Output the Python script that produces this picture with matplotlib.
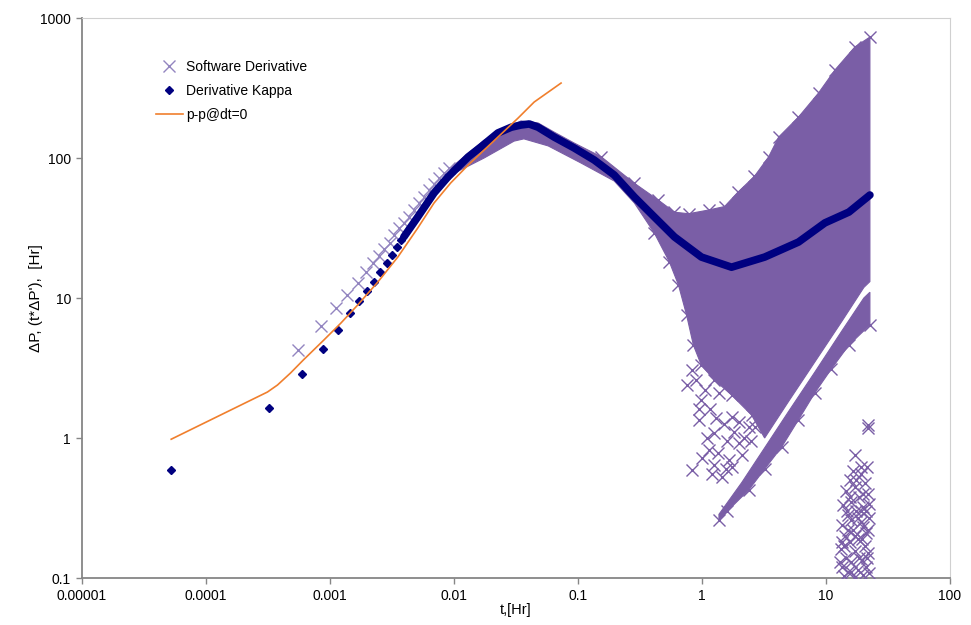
import numpy as np
import matplotlib
matplotlib.use('Agg')
import matplotlib.pyplot as plt
from matplotlib.ticker import NullLocator

plt.rcParams['font.family'] = ['Liberation Sans', 'DejaVu Sans']

# ---- data (t in Hr) ----
# p-p@dt=0
pp_t = [5.24e-5, 3.13e-4, 3.77e-4, 4.8e-4, 6.1e-4, 8.9e-4, 1.22e-3, 1.67e-3, 2.43e-3,
        3.52e-3, 5.1e-3, 6.9e-3, 9.4e-3, 1.30e-2, 1.75e-2, 2.26e-2, 3.29e-2, 4.43e-2, 7.3e-2]
pp_v = [0.98, 2.13, 2.39, 2.91, 3.61, 5.0, 6.6, 8.9, 13.0,
        19.6, 31.6, 47.7, 66.3, 89, 114, 141, 193, 251, 343]

# Derivative Kappa, early separate points
kap_t = [5.24e-5, 3.25e-4, 6.0e-4, 8.7e-4, 1.17e-3, 1.44e-3, 1.70e-3, 1.98e-3, 2.25e-3,
         2.53e-3, 2.87e-3, 3.15e-3, 3.45e-3, 3.73e-3]
kap_v = [0.59, 1.64, 2.86, 4.32, 5.9, 7.8, 9.5, 11.2, 13.0, 15.3, 17.8, 20.3, 23.1, 26.0]
# Derivative Kappa, dense part (points overlap into a thick curve)
kap2_t = [3.94e-3, 5.1e-3, 6.9e-3, 8.93e-3, 1.30e-2, 1.65e-2, 2.26e-2, 2.9e-2, 3.47e-2, 4.04e-2,
          4.76e-2, 6.43e-2, 9.3e-2, 0.135, 0.196, 0.285, 0.413, 0.60, 0.99, 1.73, 3.2, 6.0,
          9.8, 15.3, 22.6]
kap2_v = [27.3, 37.9, 56.2, 73.2, 101.7, 120, 151, 166, 172, 175,
          166, 141, 118, 96.8, 75.6, 52.6, 37.9, 27.3, 19.6, 16.6, 19.6, 25.1,
          34.4, 41.1, 54.4]

# Software Derivative, early separate points
sw_t = [5.57e-4, 8.4e-4, 1.11e-3, 1.38e-3, 1.67e-3, 1.94e-3, 2.22e-3, 2.47e-3, 2.71e-3, 3.03e-3,
        3.27e-3, 3.59e-3, 3.94e-3, 4.32e-3, 4.74e-3, 5.2e-3, 5.71e-3, 6.27e-3, 6.89e-3, 7.55e-3,
        8.28e-3, 9.1e-3]
sw_v = [4.25, 6.3, 8.5, 10.5, 12.8, 15.3, 17.8, 20, 22.4, 24.7,
        28.2, 31.6, 34.4, 37.9, 42.5, 47.7, 52.6, 59, 65.2, 72, 78, 85]

# Software Derivative, dense cloud: upper and lower edges of the main body
body_top_t = [9.4e-3, 1.75e-2, 3.47e-2, 4.76e-2, 6.43e-2, 9.3e-2, 0.154, 0.285, 0.445, 0.60,
              0.78, 1.13, 1.52, 1.95, 2.65, 3.45, 4.15, 6.0, 8.7, 11.8, 17.1, 22.6]
body_top_v = [85, 134, 184, 178, 153, 128, 102, 66, 50, 41,
              40, 42.5, 45, 57, 74, 102, 141, 196, 291, 425, 621, 731]
body_bot_t = [9.4e-3, 1.75e-2, 3.05e-2, 3.66e-2, 5.75e-2, 0.106, 0.196, 0.285, 0.413, 0.546,
              0.646, 0.75, 0.853, 0.99, 1.26, 1.73, 2.51, 3.2, 5.0, 8.12, 13.4, 20.2, 22.6]
body_bot_v = [75.6, 100, 132, 137, 122, 92, 68.5, 47.7, 29.1, 18.1,
              12.4, 7.6, 4.6, 3.3, 2.6, 2.03, 1.46, 1.0, 1.83, 3.49, 6.8, 11.9, 13.1]

# lower stripe of the cloud, just under a thin white gap
stripe_top_t = [1.37, 2.09, 3.2, 5.0, 8.12, 13.4, 20.2, 22.6]
stripe_top_v = [0.285, 0.48, 0.85, 1.55, 2.95, 5.8, 10.0, 11.0]
stripe_bot_t = [1.37, 1.6, 2.38, 3.2, 4.39, 6.0, 8.12, 11.0, 15.3, 22.6]
stripe_bot_v = [0.26, 0.30, 0.425, 0.6, 0.863, 1.35, 2.10, 3.1, 4.61, 6.42]

# scattered crosses below the main body
loose_t = [0.83, 1.13, 0.94, 1.44, 1.64, 1.26, 1.97, 2.38, 0.99, 0.83, 1.73, 2.86, 1.37,
           0.75, 1.26, 2.09, 0.9, 1.05, 1.15, 1.3, 1.5, 1.6, 1.8, 2.0, 2.2, 1.1, 1.35, 1.55,
           1.2, 1.75, 2.5, 2.7, 1.0, 0.95]
loose_v = [0.59, 0.82, 1.35, 0.53, 0.70, 1.09, 0.92, 1.20, 1.87, 3.06, 1.41, 1.58, 2.10,
           2.39, 0.64, 0.76, 2.6, 2.2, 1.6, 1.4, 1.25, 0.95, 1.1, 1.3, 1.0, 1.0, 0.78, 0.6,
           0.55, 0.62, 0.95, 1.2, 0.72, 1.6]

# late-time cluster near the bottom right
clus_t = [17.1, 21.5, 19, 15.5, 20.5, 17, 14.5, 22, 18.5, 16, 13.8, 20, 17.5, 15, 22.2, 19,
          13.5, 16.5, 21, 14.2, 18, 15.5, 20.5, 13.2, 17, 22, 14.5, 19.5, 16, 13.5, 21, 18,
          15, 20, 17, 22.4, 14, 19, 16.5, 21.8, 22,
          13, 14, 15, 16, 17, 18, 19, 20, 21, 22, 15.5, 17.5, 20, 13.5, 16, 18.5, 21.5,
          19.5, 14.8, 22.3]
clus_v = [0.76, 0.62, 0.55, 0.5, 0.48, 0.45, 0.42, 0.40, 0.38, 0.35, 0.33, 0.32, 0.30, 0.28,
          0.27, 0.25, 0.24, 0.22, 0.21, 0.2, 0.19, 0.18, 0.17, 0.16, 0.155, 0.15, 0.14, 0.135,
          0.13, 0.12, 0.12, 0.115, 0.11, 0.105, 0.102, 0.108, 0.104, 0.62, 0.58, 1.24, 1.18,
          0.13, 0.17, 0.22, 0.26, 0.2, 0.27, 0.3, 0.23, 0.3, 0.22, 0.38, 0.5, 0.4, 0.18, 0.11,
          0.14, 0.14, 0.19, 0.3, 0.34]

x_ticks = [1e-5, 1e-4, 1e-3, 1e-2, 1e-1, 1, 10, 100]
x_labels = ['0.00001', '0.0001', '0.001', '0.01', '0.1', '1', '10', '100']
y_ticks = [0.1, 1, 10, 100, 1000]
y_labels = ['0.1', '1', '10', '100', '1000']

purple = '#7a5ea6'
navy = '#000080'
orange = '#f07f2d'

fig = plt.figure(figsize=(9.71, 6.25), dpi=100)
ax = fig.add_axes([82 / 971, 47 / 625, 868 / 971, 560 / 625])
ax.set_xscale('log')
ax.set_yscale('log')

# Software Derivative cloud
ax.fill(body_top_t + body_bot_t[::-1], body_top_v + body_bot_v[::-1],
        color=purple, lw=0.8, zorder=2)
ax.fill(stripe_top_t + stripe_bot_t[::-1], stripe_top_v + stripe_bot_v[::-1],
        color=purple, lw=0.8, zorder=2)
edge_t = ([t for t in body_top_t if t > 0.15] + [t for t in body_bot_t if 0.4 < t < 3]
          + stripe_bot_t)
edge_v = ([v for t, v in zip(body_top_t, body_top_v) if t > 0.15]
          + [v for t, v in zip(body_bot_t, body_bot_v) if 0.4 < t < 3] + stripe_bot_v)
mk = dict(marker='x', linestyle='none', color=purple, markersize=8, markeredgewidth=1.0, zorder=3)
ax.plot(edge_t, edge_v, **mk)
ax.plot(loose_t, loose_v, **mk)
ax.plot(clus_t, clus_v, **mk)
ax.plot(sw_t, sw_v, marker='x', linestyle='none', color='#9385c0', markersize=8,
        markeredgewidth=1.0, zorder=3, label='Software Derivative')

# Derivative Kappa
ax.plot(kap2_t, kap2_v, color=navy, lw=5.5, solid_capstyle='round', zorder=4)
ax.plot(kap_t, kap_v, marker='D', linestyle='none', color=navy, markersize=4.5, zorder=4,
        label='Derivative Kappa')

# p-p@dt=0
ax.plot(pp_t, pp_v, color=orange, lw=1.2, zorder=5, label='p-p@dt=0')

ax.set_xlim(1e-5, 100)
ax.set_ylim(0.1, 1000)
ax.set_xticks(x_ticks)
ax.set_xticklabels(x_labels)
ax.set_yticks(y_ticks)
ax.set_yticklabels(y_labels)
ax.xaxis.set_minor_locator(NullLocator())
ax.yaxis.set_minor_locator(NullLocator())
ax.tick_params(direction='out', length=4, width=1, colors='#868686', labelcolor='black',
               labelsize=10, pad=4)

for s in ['left', 'bottom']:
    ax.spines[s].set_color('#868686')
    ax.spines[s].set_linewidth(1.3)
for s in ['top', 'right']:
    ax.spines[s].set_color('#d0d0d0')
    ax.spines[s].set_linewidth(0.8)

ax.set_xlabel('t,[Hr]', fontsize=10.5, labelpad=0)
ax.set_ylabel("ΔP, (t*ΔP'),  [Hr]", fontsize=11, labelpad=-2)

ax.legend(loc='upper left', bbox_to_anchor=(0.085, 0.925), frameon=False, fontsize=10,
          handlelength=1.95, handletextpad=0.25, labelspacing=0.72, borderpad=0,
          borderaxespad=0)

fig.savefig('out.png', dpi=100)
